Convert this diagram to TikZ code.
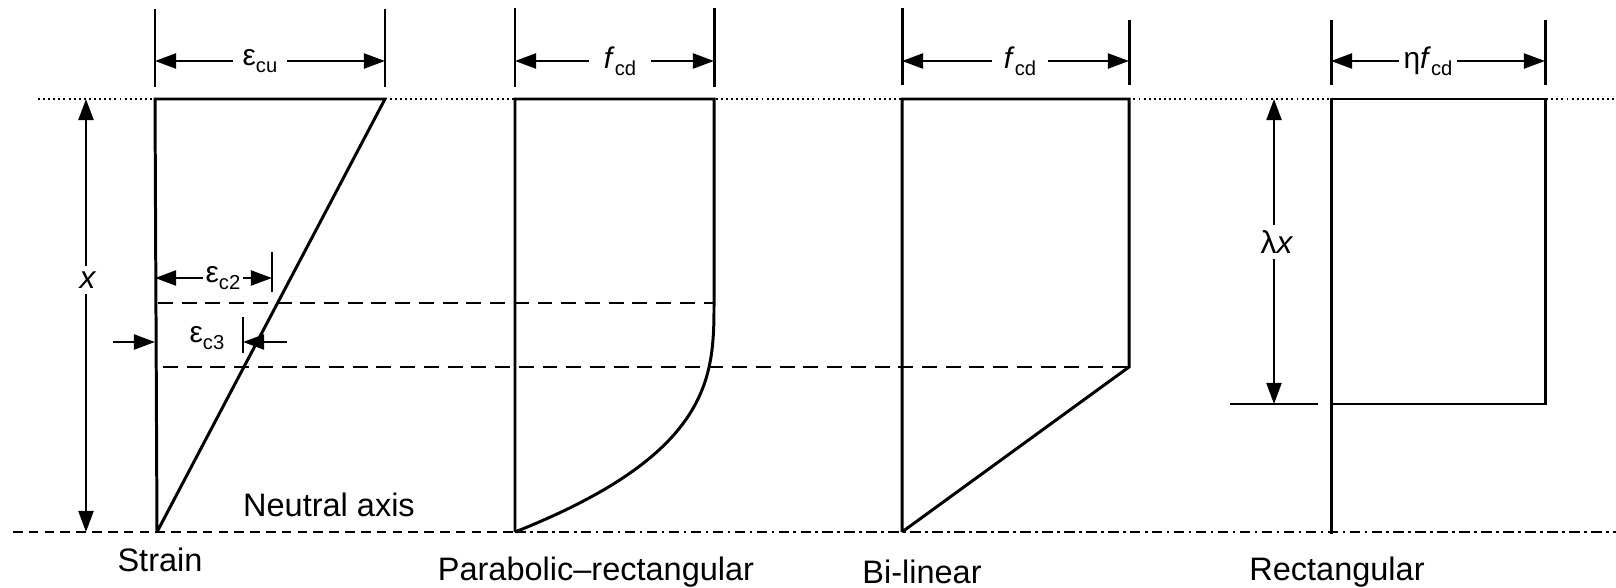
\documentclass[tikz,border=0pt]{standalone}
\usepackage{fontspec}
\setmainfont{Liberation Sans}
\usetikzlibrary{arrows.meta, positioning, calc}

\newcommand{\lowsub}[1]{\raisebox{-0.45ex}{\fontsize{11.5}{13}\selectfont #1}}
\newcommand{\symsize}{\fontsize{17}{19}\selectfont}

\begin{document}
\begin{tikzpicture}[x=0.02cm, y=-0.02cm, line width=1.5pt,
  dimarrow/.style={-{Triangle[length=12pt,width=8.5pt]}, line width=1.4pt},
  dimboth/.style={{Triangle[length=12pt,width=8.5pt]}-{Triangle[length=12pt,width=8.5pt]}, line width=1.4pt},
  dimtick/.style={line width=1.7pt},
  outline/.style={line width=1.7pt, line join=miter},
  topdots/.style={line width=1.2pt, dash pattern=on 1.1pt off 1.8pt},
  levelline/.style={line width=1.4pt, dash pattern=on 8.5pt off 5pt},
  naxis/.style={line width=1.4pt, dash pattern=on 5.5pt off 3.5pt},
  naxisdot/.style={line width=1.4pt, dash pattern=on 6pt off 2.5pt on 1.5pt off 2.5pt},
  dimlabel/.style={font=\symsize, inner ysep=1pt, inner xsep=5pt},
  caption/.style={font=\fontsize{18.5}{22}\selectfont, inner sep=0pt}]
  \useasboundingbox (0,0) rectangle (1616,588);
  % reference levels: top fibre (dotted) and neutral axis
  \coordinate (dotL) at (38,99);   \coordinate (dotR) at (1616,99);
  \coordinate (naL) at (13,532);   \coordinate (naM) at (515,532);  \coordinate (naR) at (1616,532);
  \draw[topdots] (dotL) -- (dotR);
  \draw[naxis] (naL) -- (naM);
  \draw[naxisdot] (naM) -- (naR);

  % ---- Strain ----
  \coordinate (sTL) at (155,99); \coordinate (sTR) at (385,99); \coordinate (sB) at (157,532);
  \draw[outline] (sB) -- (sTL) -- (sTR) -- (sB);
  \foreach \tx in {155,385} \draw[dimtick] (\tx,9) -- (\tx,87);
  \node[dimlabel] (ecu) at (260,61) {ε\lowsub{cu}};
  \draw[dimarrow] (ecu.west) -- (155,61);
  \draw[dimarrow] (ecu.east) -- (385,61);
  % depth x of the compression zone
  \coordinate (xtop) at (86,99); \coordinate (xbot) at (86,532);
  \draw[dimboth] (xtop) -- (xbot);
  \node[font=\fontsize{18}{20}\selectfont, fill=white, inner sep=3pt] (xlab) at (88,280) {\textit{x}};
  % strain limits eps_c2 and eps_c3
  \coordinate (c2R) at (272,278); \coordinate (c2L) at (155,278);
  \draw[dimtick] (272,252) -- (272,292);
  \node[dimlabel, inner xsep=1pt] (ec2) at (223,278) {ε\lowsub{c2}};
  \draw[dimarrow] (ec2.west) -- (c2L);
  \draw[dimarrow] (ec2.east) -- (c2R);
  \draw[dimtick] (243,317) -- (243,353);
  \coordinate (c3a) at (113,342); \coordinate (c3b) at (155,342);
  \coordinate (c3c) at (287,342); \coordinate (c3d) at (243,342);
  \draw[dimarrow] (c3a) -- (c3b);
  \draw[dimarrow] (c3c) -- (c3d);
  \node[dimlabel] (ec3) at (207,338) {ε\lowsub{c3}};
  % levels of eps_c2 and eps_c3 across the blocks
  \coordinate (lv2L) at (158,303); \coordinate (lv2R) at (714,303);
  \coordinate (lv3L) at (163,367); \coordinate (lv3R) at (1129,367);
  \draw[levelline] (lv2L) -- (lv2R);
  \draw[levelline] (lv3L) -- (lv3R);

  % ---- Parabolic-rectangular ----
  \coordinate (pTL) at (515,99); \coordinate (pTR) at (714,99); \coordinate (pB) at (515,532);
  \draw[outline] (pB) -- (pTL) -- (pTR) -- (lv2R)
    -- plot[domain=1:0, samples=50] ({515+199*(1-(1-\x)^2.9)}, {532-229*\x});
  \foreach \tx in {515,714} \draw[dimtick] (\tx,8) -- (\tx,87);
  \node[dimlabel, inner xsep=8pt] (fcdp) at (620,61) {\textit{f}\lowsub{cd}};
  \draw[dimarrow] (fcdp.west) -- (515,61);
  \draw[dimarrow] (fcdp.east) -- (714,61);

  % ---- Bi-linear ----
  \coordinate (bTL) at (902,99); \coordinate (bTR) at (1129,99); \coordinate (bB) at (902,532);
  \draw[outline] (bB) -- (bTL) -- (bTR) -- (lv3R) -- (bB);
  \draw[dimtick] (902,8) -- (902,85);
  \draw[dimtick] (1129,20) -- (1129,85);
  \node[dimlabel, inner xsep=6pt] (fcdb) at (1020,61) {\textit{f}\lowsub{cd}};
  \draw[dimarrow] (fcdb.west) -- (902,61);
  \draw[dimarrow] (fcdb.east) -- (1129,61);

  % ---- Rectangular ----
  \coordinate (rTL) at (1331,99); \coordinate (rBR) at (1545,404);
  \coordinate (rBL) at (1331,404); \coordinate (rB) at (1331,534);
  \draw[outline] (rTL) rectangle (rBR);
  \draw[outline] (rBL) -- (rB);
  \foreach \tx in {1331,1545} \draw[dimtick] (\tx,20) -- (\tx,85);
  \node[dimlabel, inner xsep=2pt] (etafcd) at (1428,61) {η\textit{f}\lowsub{cd}};
  \draw[dimarrow] (etafcd.west) -- (1331,61);
  \draw[dimarrow] (etafcd.east) -- (1545,61);
  % block depth lambda x
  \coordinate (lxtop) at (1274,99); \coordinate (lxbot) at (1274,404);
  \coordinate (lxL) at (1230,404); \coordinate (lxR) at (1318,404);
  \draw[line width=1.4pt] (lxL) -- (lxR);
  \draw[dimboth] (lxtop) -- (lxbot);
  \node[font=\fontsize{18}{20}\selectfont, fill=white, inner sep=3pt] (lxlab) at (1277,242) {λ\textit{x}};

  % captions
  \node[caption] (capS) at (160,560) {Strain};
  \node[caption] (capN) at (329,505) {Neutral axis};
  \node[caption] (capP) at (596,572) {Parabolic–rectangular};
  \node[caption] (capB) at (922,572) {Bi-linear};
  \node[caption] (capR) at (1337,572) {Rectangular};
\end{tikzpicture}
\end{document}
